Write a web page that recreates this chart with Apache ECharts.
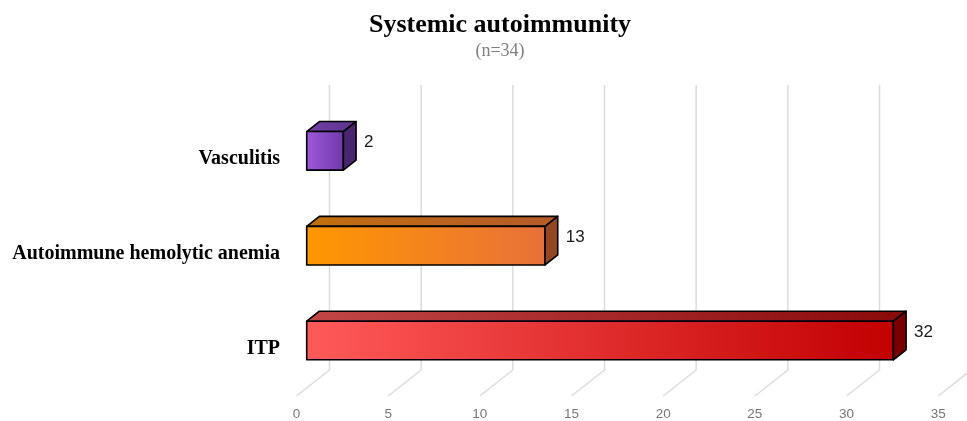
<!DOCTYPE html>
<html>
<head>
<meta charset="utf-8">
<script src="https://cdn.jsdelivr.net/npm/echarts@6/dist/echarts.min.js"></script>
<style>
  html, body { margin: 0; padding: 0; background: #fff; }
  #chart { width: 967px; height: 421px; }
</style>
</head>
<body>
<div id="chart"></div>
<script>
// Categories (top to bottom) and counts
const categories = ['Vasculitis', 'Autoimmune hemolytic anemia', 'ITP'];
const values = [2, 13, 32];
const xTicks = [0, 5, 10, 15, 20, 25, 30, 35];

// Face colours per bar: front gradient (left, right), top gradient, side
const palette = [
  { f0: '#9d5ad9', f1: '#7038aa', t0: '#7142a6', t1: '#5e3190', s: '#4a2672' },
  { f0: '#ff9700', f1: '#e8703a', t0: '#c2700f', t1: '#b65a2a', s: '#944720' },
  { f0: '#ff5a5a', f1: '#c20000', t0: '#c24646', t1: '#8a0a0a', s: '#780000' }
];

// 3D geometry in pixels: full floor depth, bar front offset, bar depth
const FLOOR = [33, -26];
const FRONT = [10.2, -8.1];
const DEPTH = [12.7, -10];
const HALF_H = 19.3;
const WALL_TOP = 85;

const chart = echarts.init(document.getElementById('chart'), null, { renderer: 'canvas' });

function lin(c0, c1) {
  return new echarts.graphic.LinearGradient(0, 0, 1, 0, [
    { offset: 0, color: c0 }, { offset: 1, color: c1 }
  ]);
}

chart.setOption({
  animation: false,
  backgroundColor: '#ffffff',
  graphic: [
    {
      type: 'text', x: 500, y: 25,
      style: {
        text: 'Systemic autoimmunity', fill: '#000',
        font: 'bold 26px "Liberation Serif"', textAlign: 'center', textVerticalAlign: 'middle'
      }
    },
    {
      type: 'text', x: 500, y: 51,
      style: {
        text: '(n=34)', fill: '#7f7f7f',
        font: '18px "Liberation Serif"', textAlign: 'center', textVerticalAlign: 'middle'
      }
    }
  ],
  grid: { left: 296.5, right: 28.8, top: 111.5, bottom: 24, containLabel: false },
  xAxis: {
    type: 'value', min: 0, max: 35, interval: 5,
    axisLine: { show: false }, axisTick: { show: false }, splitLine: { show: false },
    axisLabel: { color: '#777', fontSize: 13.5, fontFamily: 'Liberation Sans', margin: 11 }
  },
  yAxis: {
    type: 'category', data: categories, inverse: true,
    axisLine: { show: false }, axisTick: { show: false }, splitLine: { show: false },
    axisLabel: {
      color: '#000', fontSize: 20, fontWeight: 'bold', fontFamily: 'Liberation Serif', margin: 16.5
    }
  },
  series: [
    {
      // back-wall gridlines folding onto the floor
      type: 'custom',
      data: xTicks.map(v => [v, 0]),
      silent: true,
      z: 1,
      renderItem: function (params, api) {
        const cs = params.coordSys;
        const bottom = cs.y + cs.height;
        const x = api.coord([api.value(0), 0])[0];
        return {
          type: 'polyline',
          shape: { points: [[x + FLOOR[0], WALL_TOP], [x + FLOOR[0], bottom + FLOOR[1]], [x, bottom]] },
          style: { stroke: '#dcdcdc', lineWidth: 1.5, fill: null }
        };
      }
    },
    {
      // 3D bars
      type: 'custom',
      data: values.map((v, i) => [v, i]),
      z: 2,
      renderItem: function (params, api) {
        const v = api.value(0);
        const idx = api.value(1);
        const p0 = api.coord([0, idx]);
        const p1 = api.coord([v, idx]);
        const c = palette[idx];
        const x0 = p0[0] + FRONT[0];
        const x1 = p1[0] + FRONT[0];
        const cy = p0[1] + FRONT[1];
        const top = cy - HALF_H;
        const bot = cy + HALF_H;
        const dx = DEPTH[0], dy = DEPTH[1];
        const stroke = { stroke: '#000', lineWidth: 1.6, lineJoin: 'round' };
        return {
          type: 'group',
          children: [
            {
              type: 'polygon',
              shape: { points: [[x0, top], [x0 + dx, top + dy], [x1 + dx, top + dy], [x1, top]] },
              style: Object.assign({ fill: lin(c.t0, c.t1) }, stroke)
            },
            {
              type: 'rect',
              shape: { x: x0, y: top, width: x1 - x0, height: bot - top },
              style: Object.assign({ fill: lin(c.f0, c.f1) }, stroke)
            },
            {
              type: 'polygon',
              shape: { points: [[x1, top], [x1 + dx, top + dy], [x1 + dx, bot + dy], [x1, bot]] },
              style: Object.assign({ fill: c.s }, stroke)
            },
            {
              type: 'text',
              x: x1 + dx + 8,
              y: cy + dy + 1.5,
              style: {
                text: String(v), fill: '#1a1a1a',
                font: '17px "Liberation Sans"', textAlign: 'left', textVerticalAlign: 'middle'
              }
            }
          ]
        };
      }
    }
  ]
});
</script>
</body>
</html>
